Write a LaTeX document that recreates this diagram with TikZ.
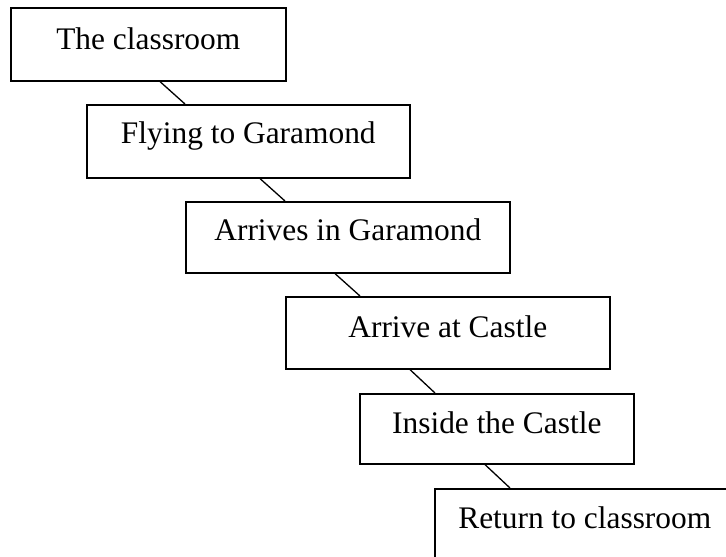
\documentclass[tikz,border=0pt]{standalone}
\usepackage{fontspec}
\setmainfont{Liberation Serif}
\usetikzlibrary{calc}
\begin{document}
\begin{tikzpicture}[x=1pt,y=-1pt,
  box/.style={draw=black, line width=1.6pt, rectangle, inner sep=0pt, anchor=north west,
    font=\fontsize{31.4}{36}\selectfont, text height=21pt},
  conn/.style={draw=black, line width=1.3pt}]
\useasboundingbox (0,0) rectangle (726,557);
\clip (0,0) rectangle (726,557);
\node[box, minimum width=275pt, minimum height=73pt, text depth=10pt] (b1) at (10,7) {The classroom};
\node[box, minimum width=323pt, minimum height=73pt, text depth=16pt] (b2) at (86,104) {Flying to Garamond};
\node[box, minimum width=324pt, minimum height=71pt, text depth=14pt] (b3) at (185,201) {Arrives in Garamond};
\node[box, minimum width=324pt, minimum height=72pt, text depth=11pt] (b4) at (285,296) {Arrive at Castle};
\node[box, minimum width=274pt, minimum height=70pt, text depth=11pt] (b5) at (359,393) {Inside the Castle};
\node[box, minimum width=320pt, minimum height=73pt, text depth=14pt] (b6) at (434,488) {Return to classroom\hspace*{20pt}};
\draw[conn] ($(b1.south west)+(150,0)$) -- ($(b2.north west)+(99,0)$);
\draw[conn] ($(b2.south west)+(174,0)$) -- ($(b3.north west)+(100,0)$);
\draw[conn] ($(b3.south west)+(150,0)$) -- ($(b4.north west)+(75,0)$);
\draw[conn] ($(b4.south west)+(125,0)$) -- ($(b5.north west)+(76,0)$);
\draw[conn] ($(b5.south west)+(126,0)$) -- ($(b6.north west)+(76,0)$);
\end{tikzpicture}
\end{document}
